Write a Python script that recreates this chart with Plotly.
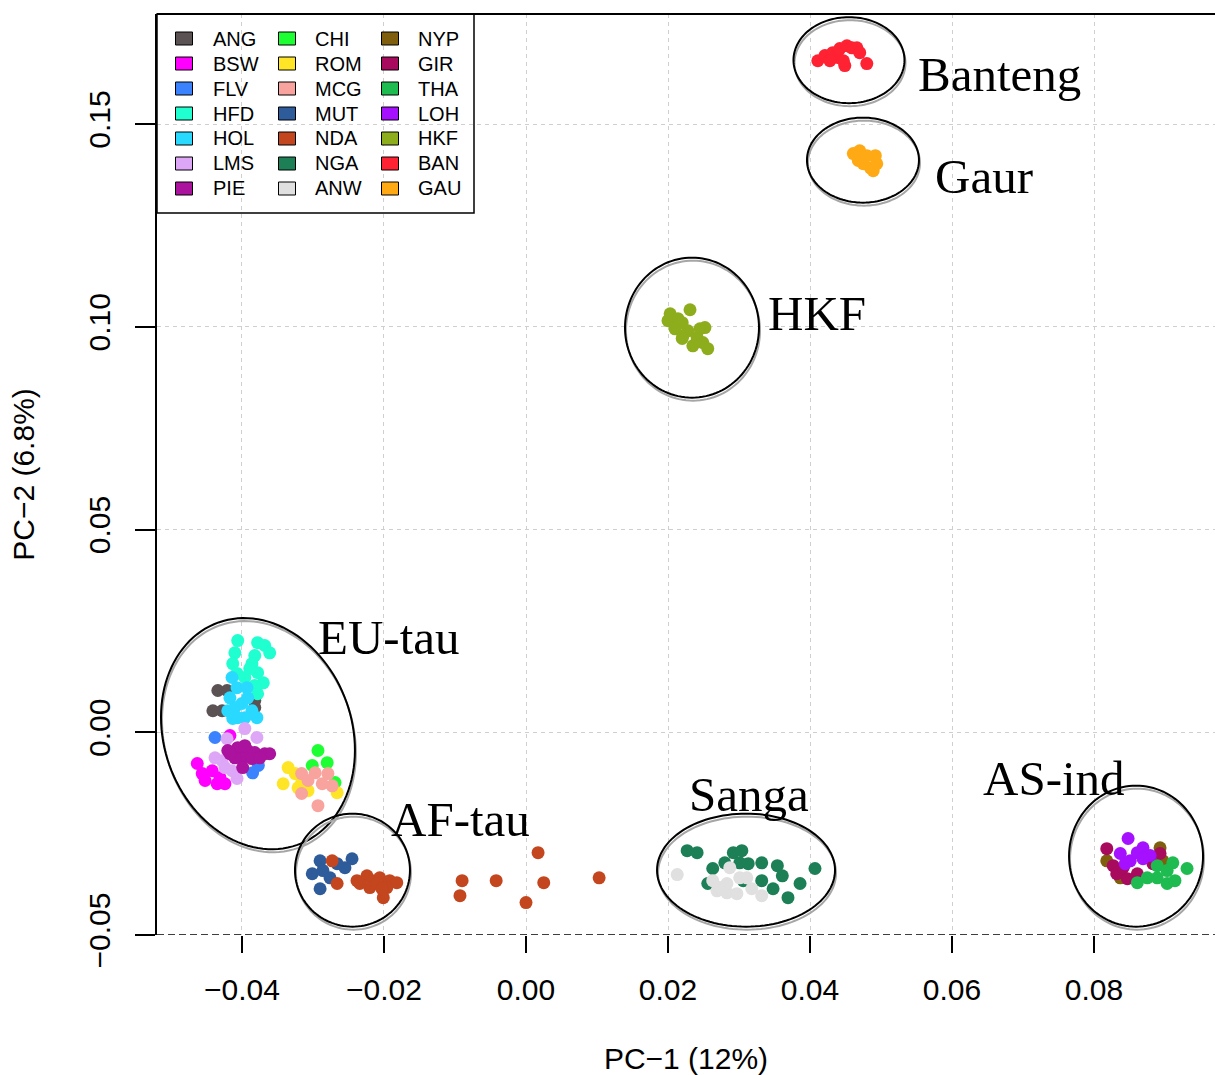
import numpy as np
import plotly.graph_objects as go

# ---------------- data (PC1, PC2) ----------------
groups = ["ANG", "BSW", "FLV", "HFD", "HOL", "LMS", "PIE",
          "CHI", "ROM", "MCG", "MUT", "NDA", "NGA", "ANW",
          "NYP", "GIR", "THA", "LOH", "HKF", "BAN", "GAU"]
colors = ["#5B5254", "#FF00FF", "#3B82FF", "#1FFFD0", "#2AD9FF", "#DDA6F7", "#AB129E",
          "#1EFF33", "#FFE525", "#F9A39E", "#2E5B9A", "#C4461E", "#1D7F56", "#E0E0E0",
          "#7F5F0D", "#A80A5E", "#1EBB50", "#A510FF", "#8EAD1C", "#FF2233", "#FFAA15"]

ANG_x = [-0.0434, -0.0421, -0.0441, -0.0428, -0.0382, -0.0382]
ANG_y = [0.0103, 0.0103, 0.0053, 0.0053, 0.0078, 0.0061]
BSW_x = [-0.0463, -0.0456, -0.0442, -0.0431, -0.0424, -0.0452, -0.0435, -0.0417]
BSW_y = [-0.0077, -0.0102, -0.0095, -0.0112, -0.0127, -0.0119, -0.0127, -0.0008]
FLV_x = [-0.0438, -0.0377, -0.0385]
FLV_y = [-0.0013, -0.0082, -0.0100]
HFD_x = [-0.0406, -0.0410, -0.0413, -0.0407, -0.0378, -0.0368, -0.0361, -0.0382,
         -0.0386, -0.0378, -0.0370, -0.0378, -0.0382, -0.0396, -0.0389]
HFD_y = [0.0226, 0.0196, 0.0169, 0.0145, 0.0221, 0.0214, 0.0196, 0.0189,
         0.0169, 0.0147, 0.0122, 0.0095, 0.0115, 0.0135, 0.0157]
HOL_x = [-0.0414, -0.0407, -0.0393, -0.0417, -0.0410, -0.0420, -0.0400, -0.0392,
         -0.0386, -0.0379, -0.0406, -0.0413, -0.0396]
HOL_y = [0.0135, 0.0110, 0.0110, 0.0085, 0.0061, 0.0053, 0.0071, 0.0085,
         0.0053, 0.0036, 0.0036, 0.0034, 0.0036]
LMS_x = [-0.0396, -0.0379, -0.0421, -0.0438, -0.0424, -0.0407, -0.0414, -0.0428]
LMS_y = [0.0009, -0.0013, -0.0016, -0.0063, -0.0087, -0.0114, -0.0095, -0.0070]
PIE_x = [-0.0420, -0.0406, -0.0392, -0.0382, -0.0368, -0.0361, -0.0400, -0.0386,
         -0.0410, -0.0399, -0.0375, -0.0396, -0.0417]
PIE_y = [-0.0045, -0.0038, -0.0045, -0.0050, -0.0053, -0.0053, -0.0065, -0.0065,
         -0.0063, -0.0087, -0.0063, -0.0033, -0.0053]
CHI_x = [-0.0293, -0.0280, -0.0301, -0.0269]
CHI_y = [-0.0045, -0.0075, -0.0082, -0.0124]
ROM_x = [-0.0335, -0.0342, -0.0325, -0.0316, -0.0307, -0.0266, -0.0321]
ROM_y = [-0.0087, -0.0127, -0.0102, -0.0124, -0.0144, -0.0149, -0.0137]
MCG_x = [-0.0316, -0.0297, -0.0279, -0.0287, -0.0273, -0.0316, -0.0293, -0.0307]
MCG_y = [-0.0102, -0.0100, -0.0102, -0.0127, -0.0132, -0.0151, -0.0181, -0.0119]
MUT_x = [-0.0290, -0.0245, -0.0255, -0.0301, -0.0286, -0.0276, -0.0290, -0.0266]
MUT_y = [-0.0317, -0.0312, -0.0334, -0.0349, -0.0341, -0.0359, -0.0386, -0.0324]
NDA_x = [-0.0273, -0.0266, -0.0238, -0.0224, -0.0216, -0.0206, -0.0192, -0.0182,
         -0.0220, -0.0201, -0.0210, -0.0234, -0.0196, -0.0203,
         -0.0090, -0.0093, -0.0042, 0.0000, 0.0017, 0.0025, 0.0103]
NDA_y = [-0.0317, -0.0373, -0.0366, -0.0354, -0.0366, -0.0359, -0.0366, -0.0371,
         -0.0383, -0.0408, -0.0373, -0.0373, -0.0383, -0.0386,
         -0.0366, -0.0403, -0.0366, -0.0420, -0.0297, -0.0371, -0.0359]
NGA_x = [0.0227, 0.0241, 0.0292, 0.0304, 0.0263, 0.0280, 0.0301, 0.0313, 0.0332,
         0.0354, 0.0361, 0.0386, 0.0369, 0.0348, 0.0332, 0.0407, 0.0256, 0.0306]
NGA_y = [-0.0292, -0.0297, -0.0297, -0.0292, -0.0336, -0.0322, -0.0322, -0.0324, -0.0322,
         -0.0329, -0.0354, -0.0373, -0.0408, -0.0386, -0.0366, -0.0336, -0.0373, -0.0366]
ANW_x = [0.0213, 0.0263, 0.0273, 0.0287, 0.0283, 0.0301, 0.0311, 0.0297, 0.0318,
         0.0332, 0.0269, 0.0283]
ANW_y = [-0.0351, -0.0366, -0.0383, -0.0334, -0.0373, -0.0359, -0.0359, -0.0398, -0.0386,
         -0.0403, -0.0391, -0.0396]
NYP_x = [0.0818, 0.0893, 0.0897, 0.0837]
NYP_y = [-0.0317, -0.0285, -0.0317, -0.0359]
GIR_x = [0.0818, 0.0827, 0.0832, 0.0847, 0.0861, 0.0893, 0.0841, 0.0883]
GIR_y = [-0.0287, -0.0329, -0.0349, -0.0361, -0.0349, -0.0299, -0.0334, -0.0324]
THA_x = [0.0861, 0.0875, 0.0889, 0.0903, 0.0911, 0.0931, 0.0903, 0.0914, 0.0889]
THA_y = [-0.0371, -0.0359, -0.0329, -0.0341, -0.0322, -0.0336, -0.0373, -0.0366, -0.0359]
LOH_x = [0.0848, 0.0837, 0.0851, 0.0869, 0.0879, 0.0861, 0.0844, 0.0869]
LOH_y = [-0.0262, -0.0299, -0.0317, -0.0285, -0.0304, -0.0297, -0.0324, -0.0312]
HKF_x = [0.0231, 0.0203, 0.0200, 0.0214, 0.0220, 0.0210, 0.0228, 0.0245, 0.0252,
         0.0221, 0.0241, 0.0235, 0.0256, 0.0220, 0.0249]
HKF_y = [0.1042, 0.1032, 0.1015, 0.1020, 0.1010, 0.0995, 0.0990, 0.0995, 0.0998,
         0.0978, 0.0973, 0.0953, 0.0946, 0.0971, 0.0961]
BAN_x = [0.0411, 0.0421, 0.0432, 0.0439, 0.0442, 0.0452, 0.0459, 0.0466, 0.0449,
         0.0447, 0.0480, 0.0470, 0.0428]
BAN_y = [0.1656, 0.1669, 0.1676, 0.1664, 0.1686, 0.1693, 0.1688, 0.1688, 0.1644,
         0.1656, 0.1649, 0.1676, 0.1656]
GAU_x = [0.0461, 0.0470, 0.0480, 0.0492, 0.0475, 0.0485, 0.0494, 0.0468, 0.0489]
GAU_y = [0.1427, 0.1434, 0.1422, 0.1422, 0.1402, 0.1392, 0.1402, 0.1410, 0.1385]

group_x = [ANG_x, BSW_x, FLV_x, HFD_x, HOL_x, LMS_x, PIE_x, CHI_x, ROM_x, MCG_x, MUT_x,
           NDA_x, NGA_x, ANW_x, NYP_x, GIR_x, THA_x, LOH_x, HKF_x, BAN_x, GAU_x]
group_y = [ANG_y, BSW_y, FLV_y, HFD_y, HOL_y, LMS_y, PIE_y, CHI_y, ROM_y, MCG_y, MUT_y,
           NDA_y, NGA_y, ANW_y, NYP_y, GIR_y, THA_y, LOH_y, HKF_y, BAN_y, GAU_y]

# cluster labels and enclosing ellipses (centre in data units)
cluster_names = ["Banteng", "Gaur", "HKF", "EU-tau", "AF-tau", "Sanga", "AS-ind"]
label_x = [0.0551, 0.0575, 0.0339, -0.0294, -0.0192, 0.0228, 0.0642]
label_y = [0.1623, 0.1370, 0.1033, 0.0233, -0.0216, -0.0154, -0.0115]
ell_cx = [0.04549, 0.04746, 0.02338, -0.03775, -0.02444, 0.03099, 0.08592]
ell_cy = [0.16575, 0.14109, 0.09978, -0.00035, -0.03401, -0.03401, -0.03055]

x_ticks = [-0.04, -0.02, 0.00, 0.02, 0.04, 0.06, 0.08]
x_ticktext = ["\u22120.04", "\u22120.02", "0.00", "0.02", "0.04", "0.06", "0.08"]
y_ticks = [-0.05, 0.00, 0.05, 0.10, 0.15]
y_ticktext = ["\u22120.05", "0.00", "0.05", "0.10", "0.15"]

# ---------------- layout geometry ----------------
W, H = 1215, 1075
ML, MR, MT, MB = 157, 0, 14, 140
PW, PH = W - ML - MR, H - MT - MB
XR = [-0.05197, 0.09704]
YR = [-0.05, 0.17713]
SX = PW / (XR[1] - XR[0])   # px per data unit
SY = PH / (YR[1] - YR[0])

def px_paper_x(px):
    return (px - ML) / PW

def px_paper_y(py):
    return (MT + PH - py) / PH

fig = go.Figure()
for name, col, xs, ys in zip(groups, colors, group_x, group_y):
    fig.add_trace(go.Scatter(x=xs, y=ys, mode="markers", name=name,
                             marker=dict(color=col, size=13, line=dict(width=0)),
                             showlegend=False))

shapes = []
# ellipse radii in px: (rx, ry, tilt deg)
ell_r = [(55.5, 43, 0), (56, 42.5, 0), (67, 70, 0), (94, 118, 19.5),
         (57.5, 56.5, 0), (89, 56.5, 0), (67, 70.5, 0)]
t = np.linspace(0, 2 * np.pi, 121)
for (cx, cy, (rx, ry, tilt)) in zip(ell_cx, ell_cy, ell_r):
    th = np.deg2rad(tilt)
    for col, dxp, dyp in (("#A6A6A6", 1.0, 3.0), ("#000000", 0.0, 0.0)):
        ex = cx + dxp / SX + (rx * np.cos(t) * np.cos(th) - ry * np.sin(t) * np.sin(th)) / SX
        ey = cy - dyp / SY + (ry * np.sin(t) * np.cos(th) + rx * np.cos(t) * np.sin(th)) / SY
        path = "M " + " L ".join(f"{a:.6f},{b:.6f}" for a, b in zip(ex, ey)) + " Z"
        shapes.append(dict(type="path", path=path, xref="x", yref="y",
                           line=dict(color=col, width=2), layer="above"))

# frame: top solid, bottom dashed
shapes.append(dict(type="line", xref="paper", yref="paper", x0=0, x1=1, y0=1, y1=1,
                   line=dict(color="black", width=2)))
shapes.append(dict(type="line", xref="paper", yref="y", x0=0, x1=1, y0=YR[0], y1=YR[0],
                   line=dict(color="black", width=1.5, dash="7px,4px")))

# legend (3 columns x 7 rows)
leg_box = (157, 474, 14, 213)
shapes.append(dict(type="rect", xref="paper", yref="paper",
                   x0=px_paper_x(leg_box[0]), x1=px_paper_x(leg_box[1]),
                   y0=px_paper_y(leg_box[3]), y1=px_paper_y(leg_box[2]),
                   line=dict(color="black", width=1.5), fillcolor="rgba(0,0,0,0)"))
col_sq = [184, 287, 390]
col_tx = [212, 314, 417]
annotations = []
for i, (name, col) in enumerate(zip(groups, colors)):
    c, r = divmod(i, 7)
    yc = 38.5 + 25 * r
    shapes.append(dict(type="rect", xref="paper", yref="paper",
                       x0=px_paper_x(col_sq[c] - 8.5), x1=px_paper_x(col_sq[c] + 8.5),
                       y0=px_paper_y(yc + 6.5), y1=px_paper_y(yc - 6.5),
                       line=dict(color="black", width=1), fillcolor=col))
    annotations.append(dict(text=name, xref="paper", yref="paper",
                            x=px_paper_x(col_tx[c]), y=px_paper_y(yc),
                            xanchor="left", yanchor="middle", showarrow=False,
                            borderpad=0,
                            font=dict(family="Liberation Sans", size=20, color="black")))

for name, lx, ly in zip(cluster_names, label_x, label_y):
    annotations.append(dict(text=name, x=lx, y=ly, xref="x", yref="y",
                            xanchor="left", yanchor="middle", showarrow=False,
                            borderpad=0,
                            font=dict(family="Liberation Serif", size=49, color="black")))

grid = dict(showgrid=True, gridcolor="#CFCFCF", gridwidth=1, griddash="4px,4px",
            zeroline=False)
fig.update_layout(
    width=W, height=H,
    margin=dict(l=ML, r=MR, t=MT, b=MB, autoexpand=False),
    paper_bgcolor="white", plot_bgcolor="white",
    showlegend=False,
    shapes=shapes, annotations=annotations,
    xaxis=dict(range=XR, tickvals=x_ticks, ticktext=x_ticktext, ticks="outside",
               ticklen=17, tickwidth=2, tickcolor="black", showline=False,
               ticklabelstandoff=11,
               tickfont=dict(family="Liberation Sans", size=30, color="black"),
               title=dict(text="PC\u22121 (12%)", standoff=42,
                          font=dict(family="Liberation Sans", size=30, color="black")),
               **grid),
    yaxis=dict(range=YR, tickvals=y_ticks, ticktext=y_ticktext, ticks="outside",
               ticklen=20, tickwidth=2, tickcolor="black", showline=True,
               linecolor="black", linewidth=2, tickangle=-90,
               ticklabelstandoff=13,
               tickfont=dict(family="Liberation Sans", size=30, color="black"),
               title=dict(text="PC\u22122 (6.8%)", standoff=40,
                          font=dict(family="Liberation Sans", size=30, color="black")),
               **grid),
)

fig.write_html("out.html")
